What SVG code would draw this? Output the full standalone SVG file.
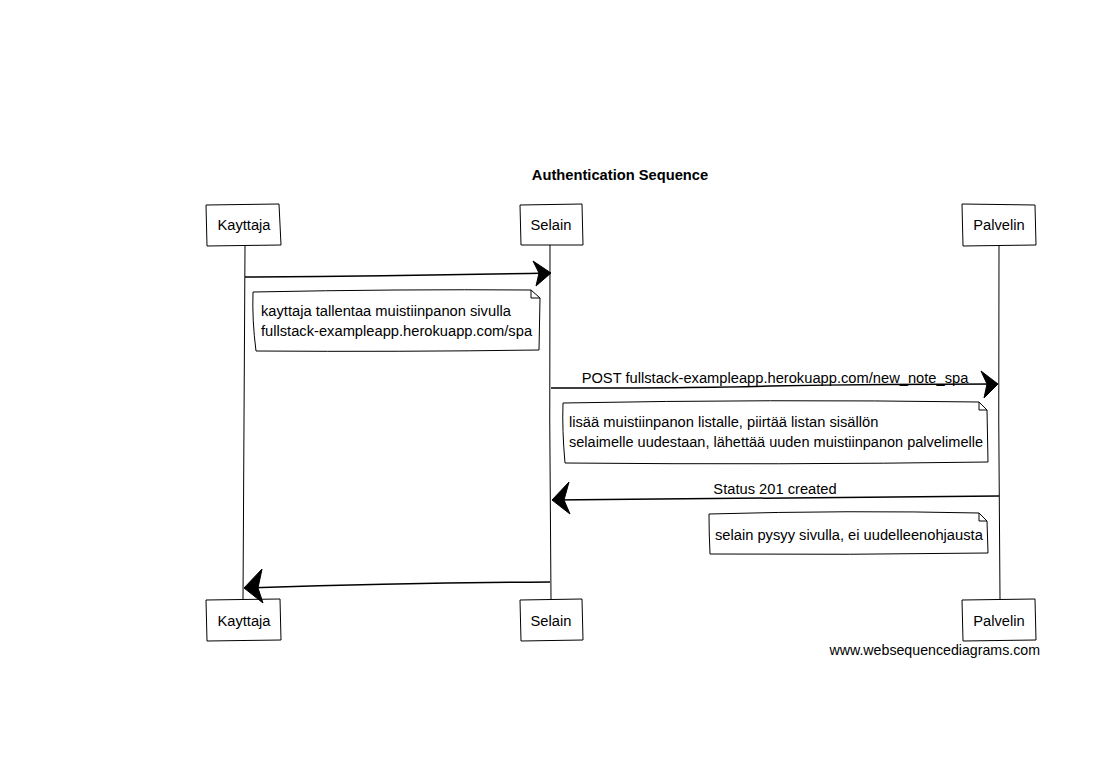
<svg xmlns="http://www.w3.org/2000/svg" width="1105" height="760" viewBox="0 0 1105 760">
<style>
.t{font-family:"Liberation Sans",Arial,sans-serif;font-size:14.7px;fill:#000}
.title{font-family:"Liberation Sans",Arial,sans-serif;font-size:14.7px;font-weight:bold;fill:#000}
.box{fill:#fff;stroke:#000;stroke-width:1}
.ln{fill:none;stroke:#000;stroke-width:1}
.msg{fill:none;stroke:#000;stroke-width:1.5}
.head{fill:#000;stroke:#000;stroke-width:1}
</style>
<rect width="1105" height="760" fill="#fff"/>
<text class="title" x="620" y="180" text-anchor="middle">Authentication Sequence</text>
<g id="lifelines">
<path class="ln" d="M245 245 Q244 420 243 599"/>
<path class="ln" d="M550 245 Q549 420 551 599"/>
<path class="ln" d="M999 245 Q998 420 1000 599"/>
</g>
<g id="kayttaja-top"><path class="box" d="M206 205 L279 204 L281 245 L207 246 Z"/><text class="t" x="244" y="230" text-anchor="middle">Kayttaja</text></g>
<g id="selain-top"><path class="box" d="M520 205 L582 204 L583 245 L521 245 Z"/><text class="t" x="551" y="230" text-anchor="middle">Selain</text></g>
<g id="palvelin-top"><path class="box" d="M962 204 L1035 205 L1036 245 L963 246 Z"/><text class="t" x="999" y="230" text-anchor="middle">Palvelin</text></g>
<g id="kayttaja-bottom"><path class="box" d="M206 600 L280 599 L281 640 L207 641 Z"/><text class="t" x="244" y="626" text-anchor="middle">Kayttaja</text></g>
<g id="selain-bottom"><path class="box" d="M520 600 L582 599 L583 640 L521 641 Z"/><text class="t" x="551" y="626" text-anchor="middle">Selain</text></g>
<g id="palvelin-bottom"><path class="box" d="M962 600 L1035 599 L1036 640 L963 641 Z"/><text class="t" x="999" y="626" text-anchor="middle">Palvelin</text></g>
<g id="connectors">
<path class="msg" d="M245 277 Q400 276 550 273"/>
<path class="head" d="M551 273 L533 261 L539 273 L536 286 Z"/>
<path class="msg" d="M551 388 Q700 388 770 386 Q880 384 997 384"/>
<path class="head" d="M998 384 L981 371 L987 384 L984 398 Z"/>
<text class="t" x="775" y="383" text-anchor="middle">POST fullstack-exampleapp.herokuapp.com/new_note_spa</text>
<path class="msg" d="M999 496 Q800 497 553 500"/>
<path class="head" d="M552 500 L569 482 L564 500 L570 514 Z"/>
<text class="t" x="775" y="494" text-anchor="middle">Status 201 created</text>
<path class="msg" d="M550 582 Q400 583 245 588"/>
<path class="head" d="M244 588 L262 569 L258 588 L263 603 Z"/>
</g>
<g id="note1">
<path class="box" d="M253 292 Q400 289 531 290 L540 298 L539 350 Q400 352 256 351 Q252 320 253 292 Z"/>
<path class="ln" d="M531 290 L531 298 L540 298"/>
<text class="t" x="261" y="316">kayttaja tallentaa muistiinpanon sivulla</text>
<text class="t" x="261" y="336">fullstack-exampleapp.herokuapp.com/spa</text>
</g>
<g id="note2">
<path class="box" d="M563 403 Q770 399 979 402 L987 410 L988 462 Q780 465 565 463 Q562 430 563 403 Z"/>
<path class="ln" d="M979 402 L979 410 L987 410"/>
<text class="t" x="569" y="427">lisää muistiinpanon listalle, piirtää listan sisällön</text>
<text class="t" x="569" y="447" textLength="414" lengthAdjust="spacingAndGlyphs">selaimelle uudestaan, lähettää uuden muistiinpanon palvelimelle</text>
</g>
<g id="note3">
<path class="box" d="M709 514 Q850 510 979 513 L987 521 L988 553 Q850 555 710 554 Q709 534 709 514 Z"/>
<path class="ln" d="M979 513 L979 521 L987 521"/>
<text class="t" x="715" y="540">selain pysyy sivulla, ei uudelleenohjausta</text>
</g>
<text class="t" x="1040" y="655" text-anchor="end" style="font-size:14.2px">www.websequencediagrams.com</text>
</svg>
